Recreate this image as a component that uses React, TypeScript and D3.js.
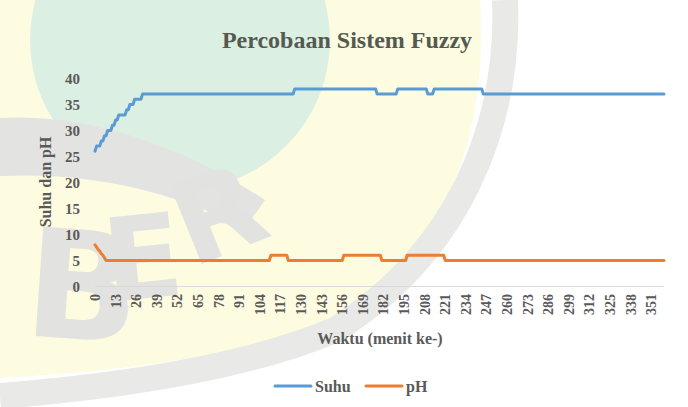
import { useEffect, useRef } from "react";
import * as d3 from "d3";

// run-length pairs [value, count], minute 0..359
const suhuRuns: [number, number][] = [
  [26, 1], [27, 3], [28, 2], [29, 2], [30, 3], [31, 2], [32, 2], [33, 5],
  [34, 2], [35, 3], [36, 5], [37, 96], [38, 52], [37, 13], [38, 19],
  [37, 4], [38, 31], [37, 115],
];
const phRuns: [number, number][] = [
  [8, 1], [7.6, 1], [7.1, 1], [6.8, 1], [6.3, 1], [6, 1], [5.5, 1],
  [5, 104], [6, 11], [5, 35], [6, 24], [5, 16], [6, 24], [5, 139],
];
const xTickLabels = [0, 13, 26, 39, 52, 65, 78, 91, 104, 117, 130, 143, 156, 169, 182, 195,
  208, 221, 234, 247, 260, 273, 286, 299, 312, 325, 338, 351];
const yTicks = [0, 5, 10, 15, 20, 25, 30, 35, 40];
const seriesNames = ["Suhu", "pH"];
const seriesColors = ["#5b9bd5", "#ed7d31"];

const expand = (runs: [number, number][]) => runs.flatMap(([v, n]) => Array(n).fill(v) as number[]);

const W = 688;
const H = 407;
const FONT = "'Liberation Serif', 'Times New Roman', serif";

const App = () => {
  const svgRef = useRef<SVGSVGElement>(null);

  useEffect(() => {
    if (!svgRef.current) return;
    const svg = d3.select(svgRef.current);
    svg.selectAll("*").remove();

    const suhu = expand(suhuRuns);
    const ph = expand(phRuns);

    const x = d3.scaleLinear().domain([0, suhu.length - 1]).range([95, 664]);
    const y = d3.scaleLinear().domain([0, 40]).range([286.5, 78.5]);

    svg.append("rect").attr("width", W).attr("height", H).attr("fill", "#ffffff");

    // faded watermark logo behind the chart (rough)
    const wm = svg.append("g");
    wm.append("path")
      .attr("d", "M0,0 L480,0 C488,120 455,250 335,320 C235,360 100,372 0,378 Z")
      .attr("fill", "#fdfbe0");
    wm.append("circle").attr("cx", 180).attr("cy", 40).attr("r", 150).attr("fill", "#dcefe3");
    wm.append("path")
      .attr("d", "M0,118 C90,112 190,150 265,200 L245,228 C165,188 85,172 0,176 Z")
      .attr("fill", "#e3e3e1");
    wm.append("path")
      .attr("d", "M505,0 C510,130 455,255 335,330 C235,372 100,388 0,396")
      .attr("fill", "none").attr("stroke", "#e9e9e7").attr("stroke-width", 26);
    const letters = [
      { t: "B", x: 22, y: 335, r: 4, s: 150 },
      { t: "E", x: 108, y: 302, r: -6, s: 115 },
      { t: "R", x: 192, y: 268, r: -22, s: 115 },
    ];
    letters.forEach((l) => {
      wm.append("text")
        .attr("transform", `translate(${l.x},${l.y}) rotate(${l.r})`)
        .attr("font-family", "'DejaVu Sans', sans-serif")
        .attr("font-weight", 700)
        .attr("font-size", l.s)
        .attr("fill", "#e2e2e0")
        .text(l.t);
    });

    // title
    svg.append("text")
      .attr("x", 347).attr("y", 48)
      .attr("text-anchor", "middle")
      .attr("font-family", FONT).attr("font-weight", 700).attr("font-size", 24)
      .attr("fill", "#545a50")
      .text("Percobaan Sistem Fuzzy");

    // x axis line
    svg.append("line")
      .attr("x1", 95).attr("x2", 664)
      .attr("y1", y(0)).attr("y2", y(0))
      .attr("stroke", "#d9d9d9").attr("stroke-width", 1);

    // y tick labels
    svg.append("g").selectAll("text")
      .data(yTicks).enter().append("text")
      .attr("x", 80).attr("y", (d) => y(d)).attr("dy", "0.35em")
      .attr("text-anchor", "end")
      .attr("font-family", FONT).attr("font-weight", 700).attr("font-size", 15)
      .attr("fill", "#595959")
      .text((d) => d);

    // x tick labels (rotated)
    svg.append("g").selectAll("text")
      .data(xTickLabels).enter().append("text")
      .attr("transform", (d) => `translate(${x(d)},294) rotate(-90)`)
      .attr("dy", "0.35em")
      .attr("text-anchor", "end")
      .attr("font-family", FONT).attr("font-weight", 700).attr("font-size", 14)
      .attr("fill", "#595959")
      .text((d) => d);

    // axis titles
    svg.append("text")
      .attr("transform", `translate(51,182) rotate(-90)`)
      .attr("text-anchor", "middle")
      .attr("font-family", FONT).attr("font-weight", 700).attr("font-size", 16)
      .attr("fill", "#595959")
      .text("Suhu dan pH");
    svg.append("text")
      .attr("x", 380).attr("y", 344)
      .attr("text-anchor", "middle")
      .attr("font-family", FONT).attr("font-weight", 700).attr("font-size", 16)
      .attr("fill", "#595959")
      .text("Waktu (menit ke-)");

    // series
    const line = d3.line<number>().x((_, i) => x(i)).y((d) => y(d));
    [suhu, ph].forEach((data, i) => {
      svg.append("path")
        .attr("d", line(data))
        .attr("fill", "none")
        .attr("stroke", seriesColors[i])
        .attr("stroke-width", 3)
        .attr("stroke-linejoin", "round")
        .attr("stroke-linecap", "round");
    });

    // legend
    const legendX = [275, 366];
    seriesNames.forEach((name, i) => {
      const lx = legendX[i];
      svg.append("line")
        .attr("x1", lx).attr("x2", lx + 36)
        .attr("y1", 386).attr("y2", 386)
        .attr("stroke", seriesColors[i]).attr("stroke-width", 3)
        .attr("stroke-linecap", "round");
      svg.append("text")
        .attr("x", lx + 40).attr("y", 392)
        .attr("font-family", FONT).attr("font-weight", 700).attr("font-size", 16)
        .attr("fill", "#595959")
        .text(name);
    });
  }, []);

  return (
    <svg
      ref={svgRef}
      width={W}
      height={H}
      style={{ position: "absolute", left: 0, top: 0, display: "block" }}
    />
  );
};

export default App;
